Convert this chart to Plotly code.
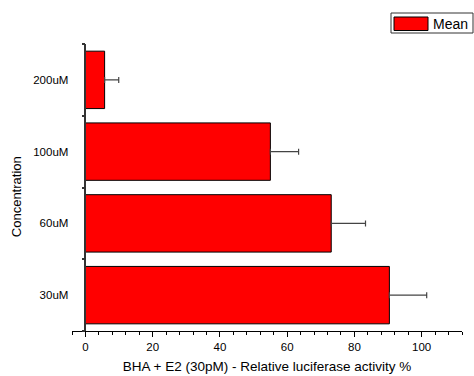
import plotly.graph_objects as go

categories = ["30uM", "60uM", "100uM", "200uM"]
means = [90.4, 73.1, 55.0, 5.7]
errors = [11.1, 10.2, 8.4, 4.2]
x_major_ticks = [0, 20, 40, 60, 80, 100]
series_name = "Mean"

FONT = "Arial, 'Liberation Sans', Helvetica, sans-serif"
W, H = 474, 376
ML, MR, MT, MB = 72, 12, 44, 45
XMIN, XMAX = -4, 112
pw = W - ML - MR
ph = H - MT - MB
y0_pos = (0 - XMIN) / (XMAX - XMIN)

fig = go.Figure()
fig.add_trace(go.Bar(
    y=categories, x=means, orientation="h", name=series_name,
    marker=dict(color="#ff0000", line=dict(color="#000000", width=1)),
    width=0.8,
    error_x=dict(type="data", array=errors, symmetric=False, arrayminus=[0]*len(errors),
                 color="#444444", thickness=1.2, width=3),
    showlegend=False,
))

fig.update_layout(
    width=W, height=H,
    margin=dict(l=ML, r=MR, t=MT, b=MB),
    paper_bgcolor="white", plot_bgcolor="white",
    font=dict(family=FONT, color="#000000", size=11.5),
    bargap=0.2,
    xaxis=dict(
        range=[XMIN, XMAX], showgrid=False, zeroline=False,
        showline=True, linecolor="#000000", linewidth=1,
        ticks="outside", ticklen=5, tickwidth=1, tickcolor="#000000",
        tickvals=x_major_ticks,
        minor=dict(dtick=4, tick0=0, ticks="outside", ticklen=3, tickcolor="#000000", showgrid=False),
        tickfont=dict(size=11.5),
        title=dict(text="BHA + E2 (30pM) - Relative luciferase activity %", font=dict(size=13.5), standoff=9),
        automargin=False, fixedrange=True,
    ),
    yaxis=dict(
        type="category", categoryorder="array", categoryarray=categories,
        range=[-0.5, 3.5], anchor="free", position=y0_pos,
        showgrid=False, zeroline=False,
        showline=True, linecolor="#333333", linewidth=1.5,
        ticks="outside", tickson="boundaries", ticklen=3, tickwidth=1.5, tickcolor="#333333",
        ticklabelstandoff=14,
        tickfont=dict(size=11.5),
        automargin=False, fixedrange=True,
    ),
    yaxis2=dict(
        overlaying="y", anchor="free", position=y0_pos,
        range=[-0.5, 3.5], showgrid=False, zeroline=False, showline=False,
        ticks="inside", tickvals=[-0.5, 0.5, 1.5, 2.5, 3.5], ticklen=3, tickwidth=1.5,
        tickcolor="#333333", showticklabels=False, automargin=False, fixedrange=True,
    ),
)

# y-axis title
fig.add_annotation(
    text="Concentration", textangle=-90, xref="paper", yref="paper",
    x=(16.5 - ML) / pw, y=(H - MB - 196.7) / ph, xanchor="center", yanchor="middle",
    showarrow=False, font=dict(size=13, family=FONT, color="#000000"),
)

# custom legend (wide swatch)
def px_x(v):
    return (v - ML) / pw

def px_y(v):
    return (H - MB - v) / ph

fig.add_shape(type="rect", xref="paper", yref="paper",
              x0=px_x(391), x1=px_x(473), y0=px_y(33), y1=px_y(13),
              line=dict(color="#333333", width=1), fillcolor="white")
fig.add_shape(type="rect", xref="paper", yref="paper",
              x0=px_x(394), x1=px_x(428), y0=px_y(30.5), y1=px_y(17),
              line=dict(color="#000000", width=1), fillcolor="#ff0000")
fig.add_annotation(text=series_name, xref="paper", yref="paper",
                   x=px_x(431), y=px_y(23.5), xanchor="left", yanchor="middle",
                   showarrow=False, font=dict(size=14, family=FONT, color="#000000"))

fig.write_html("out.html", config={"displayModeBar": False},
               post_script="document.body.style.margin='0px';")
